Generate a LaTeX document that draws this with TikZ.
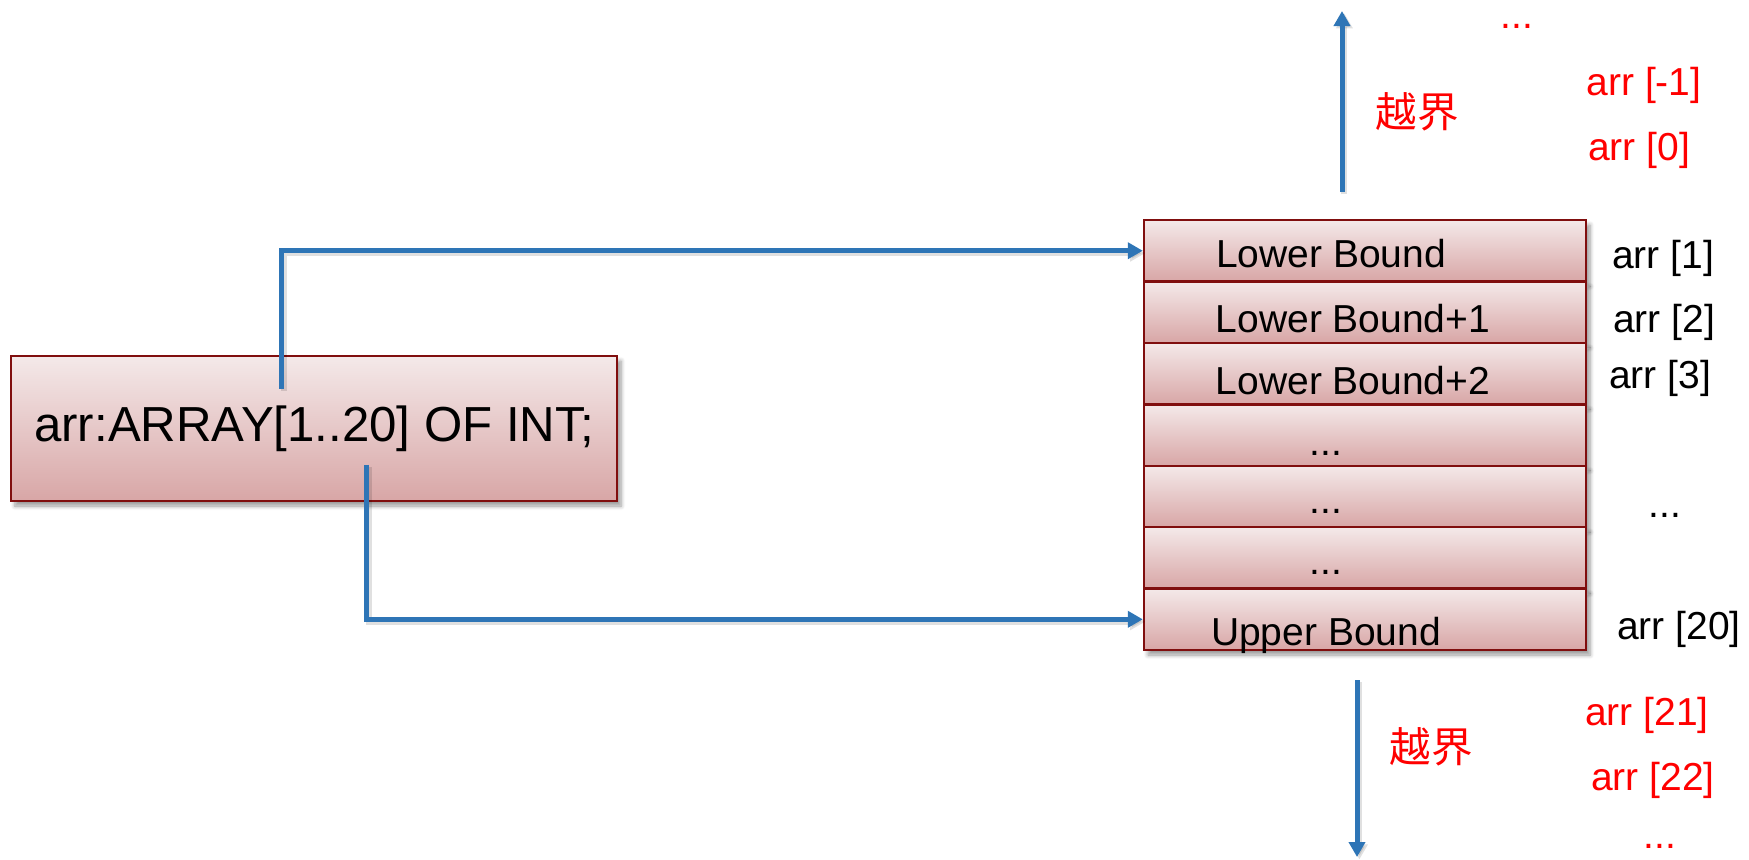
\documentclass[tikz,border=0pt]{standalone}
\usepackage{fontspec}
\setmainfont{Liberation Sans}
\newfontfamily\cjk{Noto Sans CJK SC}
\usetikzlibrary{arrows.meta,shadows.blur,calc}

\definecolor{cellline}{RGB}{128,14,14}
\definecolor{celltop}{RGB}{244,233,233}
\definecolor{cellbot}{RGB}{216,166,166}
\definecolor{arrowblue}{RGB}{46,117,182}

\begin{document}
\begin{tikzpicture}[x=0.5pt,y=-0.5pt,
  boxbase/.style={draw=cellline, line width=1.2pt, top color=celltop, bottom color=cellbot,
    inner sep=0pt,
    blur shadow={shadow xshift=2pt, shadow yshift=-2.5pt, shadow blur steps=6, shadow opacity=40}},
  cell/.style={boxbase, minimum width=221pt, minimum height=30.7pt},
  celltext/.style={anchor=base, font=\fontsize{19.5}{23}\selectfont, inner sep=0pt},
  idx/.style={anchor=base, font=\fontsize{19.5}{23}\selectfont, inner sep=0pt},
  oob/.style={idx, text=red},
  oobcjk/.style={anchor=base, font=\cjk\fontsize{20.8}{24}\selectfont, text=red, inner sep=0pt},
  link/.style={draw=arrowblue, line width=2.5pt, -{Triangle[length=7.5pt,width=8pt]},
    preaction={draw=black, opacity=0.12, line width=3pt,
      transform canvas={xshift=1.2pt,yshift=-1.2pt}}},
]
\useasboundingbox (0,0) rectangle (1749,859);

% declaration box
\node[boxbase, minimum width=303pt, minimum height=72.5pt,
      font=\fontsize{24.6}{29}\selectfont] (decl) at (314,428.5)
      {\raisebox{-1pt}{arr:ARRAY[1..20] OF INT;}\hspace{11pt}};

% memory cells, top to bottom
\foreach \i in {1,...,7} {
  \node[cell] (r\i) at (1365,{220+61.43*(\i-0.5)}) {};
}

% cell contents
\node[celltext] (t1) at (1331,267) {Lower Bound};
\node[celltext] (t2) at (1353,332) {Lower Bound+1};
\node[celltext] (t3) at (1353,394) {Lower Bound+2};
\node[celltext] (t4) at (1326,455) {...};
\node[celltext] (t5) at (1326,513) {...};
\node[celltext] (t6) at (1326,574) {...};
\node[celltext] (t7) at (1326,645) {Upper Bound};

% index labels
\node[idx] (i1) at (1663,268) {arr [1]};
\node[idx] (i2) at (1664,332) {arr [2]};
\node[idx] (i3) at (1660,388) {arr [3]};
\node[idx] (idots) at (1665,517) {...};
\node[idx] (i20) at (1679,639) {arr [20]};

% out-of-range labels
\node[oob] (top dots) at (1517,28) {...};
\node[oob] (im1) at (1644,95) {arr [-1]};
\node[oob] (i0) at (1639,160) {arr [0]};
\node[oob] (i21) at (1647,725) {arr [21]};
\node[oob] (i22) at (1653,790) {arr [22]};
\node[oob] (bottom dots) at (1660,848) {...};
\node[oobcjk] (up label) at (1417,127) {越界};
\node[oobcjk] (down label) at (1431,762) {越界};

% bound connectors
\coordinate (lowsrc) at ($(decl.north west)+(272,34)$);
\coordinate (upsrc) at ($(decl.north west)+(357,110)$);
\draw[link] (lowsrc) |- (r1.west);
\draw[link] (upsrc) |- (r7.west);

% overflow directions
\coordinate (ua) at (1342,192);
\coordinate (ub) at (1342,11);
\coordinate (da) at (1357,680);
\coordinate (db) at (1357,857);
\draw[link] (ua) -- (ub);
\draw[link] (da) -- (db);
\end{tikzpicture}
\end{document}
